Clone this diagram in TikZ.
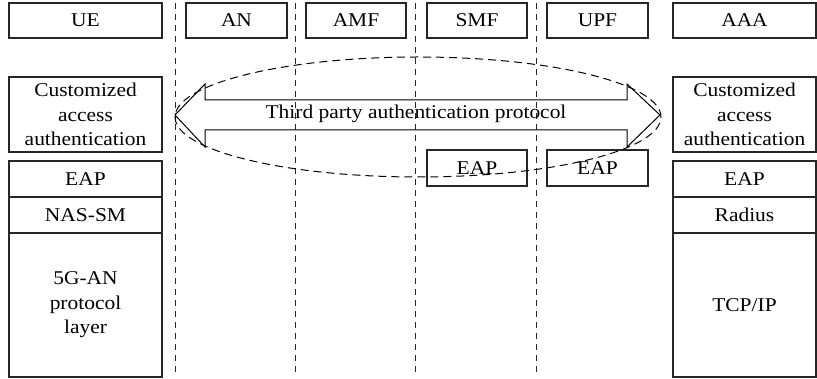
\documentclass[tikz,border=0pt]{standalone}
\usepackage{fontspec}
\setmainfont{Liberation Serif}[FakeStretch=1.1]
\usetikzlibrary{shapes.geometric}
\begin{document}
\begin{tikzpicture}[x=1pt,y=-1pt,
  box/.style={draw=black!85, line width=1.1pt, inner sep=0pt, outer sep=0pt,
    align=center, font=\fontsize{19.5}{24.5}\selectfont},
  lbl/.style={inner sep=0pt, align=center, font=\fontsize{19.5}{24.5}\selectfont},
  vline/.style={draw=black!85, line width=1pt, dash pattern=on 6pt off 5pt},
  arrowshape/.style={draw=black, line width=1pt, line join=miter},
  ellshape/.style={ellipse, draw=black, line width=1pt, dash pattern=on 8pt off 5pt,
    inner sep=0pt, minimum width=486pt, minimum height=120pt}]
\useasboundingbox (0,0) rectangle (817,379);
% dashed separators
\foreach \n/\x in {1/175,2/295,3/415,4/536}{
  \coordinate (d\n t) at (\x,3);
  \coordinate (d\n b) at (\x,372);
  \draw[vline] (d\n t) -- (d\n b);
}
% top row
\node[box, minimum width=153pt, minimum height=35pt] (ue)  at (85.5,20.5) {UE};
\node[box, minimum width=101pt, minimum height=35pt] (an)  at (236.5,20.5) {AN};
\node[box, minimum width=100pt, minimum height=35pt] (amf) at (356,20.5) {AMF};
\node[box, minimum width=100pt, minimum height=35pt] (smf) at (477,20.5) {SMF};
\node[box, minimum width=101pt, minimum height=35pt] (upf) at (597.5,20.5) {UPF};
\node[box, minimum width=143pt, minimum height=35pt] (aaa) at (744.5,20.5) {AAA};
% UE stack
\node[box, minimum width=153pt, minimum height=75pt] (lca) at (85.5,114.5) {Customized\\access\\authentication};
\node[box, minimum width=153pt, minimum height=36pt] (leap) at (85.5,179) {EAP};
\node[box, minimum width=153pt, minimum height=36pt] (lnas) at (85.5,215) {NAS-SM};
\node[box, minimum width=153pt, minimum height=144pt] (l5g) at (85.5,305) {5G-AN\\protocol\\layer};
% AAA stack
\node[box, minimum width=143pt, minimum height=75pt] (rca) at (744.5,114.5) {Customized\\access\\authentication};
\node[box, minimum width=143pt, minimum height=36pt] (reap) at (744.5,179) {EAP};
\node[box, minimum width=143pt, minimum height=36pt] (rrad) at (744.5,215) {Radius};
\node[box, minimum width=143pt, minimum height=144pt] (rtcp) at (744.5,305) {TCP/IP};
% SMF / UPF EAP
\node[box, minimum width=100pt, minimum height=36pt] (seap) at (477,168) {EAP};
\node[box, minimum width=101pt, minimum height=36pt] (ueap) at (597.5,168) {EAP};
% double arrow
\draw[arrowshape] (175,115) -- (205,84) -- (205,100) -- (627,100) -- (627,84)
  -- (660,115) -- (627,147) -- (627,130) -- (205,130) -- (205,147) -- cycle;
\node[lbl] (tp) at (416,114) {Third party authentication protocol};
% dashed ellipse
\node[ellshape] (ell) at (418,117) {};
\end{tikzpicture}
\end{document}
